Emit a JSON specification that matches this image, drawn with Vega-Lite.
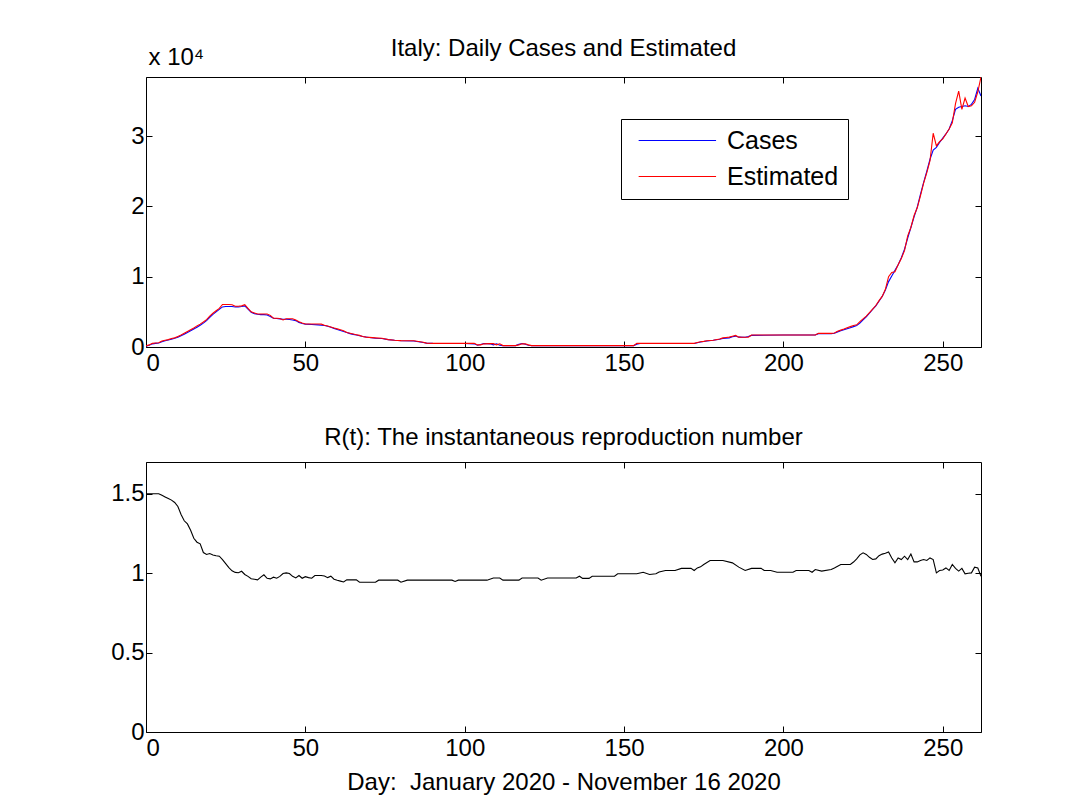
{
  "$schema": "https://vega.github.io/schema/vega-lite/v6.json",
  "background": "white",
  "padding": {"left": 110, "top": 36, "right": 10, "bottom": 10},
  "spacing": 49,
  "config": {
    "font": "Liberation Sans",
    "view": {"stroke": "black", "strokeWidth": 1},
    "axis": {"grid": false, "domain": false, "tickColor": "black", "tickSize": -6, "labelFontSize": 24, "labelColor": "black", "labelFont": "Liberation Sans", "titleFont": "Liberation Sans", "titleFontSize": 24, "titleFontWeight": "normal", "titleColor": "black", "labelPadding": 8},
    "axisX": {"labelPadding": 10},
    "title": {"fontSize": 24, "fontWeight": "normal", "font": "Liberation Sans", "color": "black", "offset": 12}
  },
  "datasets": {
    "cases": [
      {"day":0,"series":"Cases","value":100},{"day":1,"series":"Cases","value":250},{"day":2,"series":"Cases","value":450},{"day":3,"series":"Cases","value":520},{"day":4,"series":"Cases","value":580},{"day":5,"series":"Cases","value":750},{"day":6,"series":"Cases","value":900},{"day":7,"series":"Cases","value":1000},{"day":8,"series":"Cases","value":1100},{"day":9,"series":"Cases","value":1250},{"day":10,"series":"Cases","value":1400},{"day":11,"series":"Cases","value":1600},{"day":12,"series":"Cases","value":1800},{"day":13,"series":"Cases","value":2050},{"day":14,"series":"Cases","value":2300},{"day":15,"series":"Cases","value":2550},{"day":16,"series":"Cases","value":2800},{"day":17,"series":"Cases","value":3100},{"day":18,"series":"Cases","value":3400},{"day":19,"series":"Cases","value":3750},{"day":20,"series":"Cases","value":4200},{"day":21,"series":"Cases","value":4650},{"day":22,"series":"Cases","value":5000},{"day":23,"series":"Cases","value":5350},{"day":24,"series":"Cases","value":5700},{"day":25,"series":"Cases","value":5750},{"day":26,"series":"Cases","value":5750},{"day":27,"series":"Cases","value":5750},{"day":28,"series":"Cases","value":5700},{"day":29,"series":"Cases","value":5700},{"day":30,"series":"Cases","value":5750},{"day":31,"series":"Cases","value":5850},{"day":32,"series":"Cases","value":5400},{"day":33,"series":"Cases","value":4950},{"day":34,"series":"Cases","value":4750},{"day":35,"series":"Cases","value":4650},{"day":36,"series":"Cases","value":4600},{"day":37,"series":"Cases","value":4600},{"day":38,"series":"Cases","value":4550},{"day":39,"series":"Cases","value":4350},{"day":40,"series":"Cases","value":4100},{"day":41,"series":"Cases","value":4050},{"day":42,"series":"Cases","value":4000},{"day":43,"series":"Cases","value":3950},{"day":44,"series":"Cases","value":3950},{"day":45,"series":"Cases","value":3900},{"day":46,"series":"Cases","value":3850},{"day":47,"series":"Cases","value":3750},{"day":48,"series":"Cases","value":3500},{"day":49,"series":"Cases","value":3350},{"day":50,"series":"Cases","value":3250},{"day":52,"series":"Cases","value":3200},{"day":54,"series":"Cases","value":3150},{"day":55,"series":"Cases","value":3100},{"day":56,"series":"Cases","value":3050},{"day":57,"series":"Cases","value":2950},{"day":58,"series":"Cases","value":2800},{"day":59,"series":"Cases","value":2650},{"day":60,"series":"Cases","value":2500},{"day":61,"series":"Cases","value":2350},{"day":62,"series":"Cases","value":2200},{"day":63,"series":"Cases","value":2050},{"day":64,"series":"Cases","value":1900},{"day":65,"series":"Cases","value":1800},{"day":66,"series":"Cases","value":1700},{"day":67,"series":"Cases","value":1600},{"day":68,"series":"Cases","value":1500},{"day":69,"series":"Cases","value":1420},{"day":70,"series":"Cases","value":1350},{"day":72,"series":"Cases","value":1250},{"day":74,"series":"Cases","value":1200},{"day":76,"series":"Cases","value":1050},{"day":78,"series":"Cases","value":950},{"day":80,"series":"Cases","value":880},{"day":84,"series":"Cases","value":850},{"day":87,"series":"Cases","value":650},{"day":88,"series":"Cases","value":550},{"day":90,"series":"Cases","value":520},{"day":95,"series":"Cases","value":500},{"day":100,"series":"Cases","value":500},{"day":103,"series":"Cases","value":450},{"day":104,"series":"Cases","value":250},{"day":105,"series":"Cases","value":350},{"day":106,"series":"Cases","value":500},{"day":108,"series":"Cases","value":450},{"day":109,"series":"Cases","value":300},{"day":110,"series":"Cases","value":450},{"day":111,"series":"Cases","value":250},{"day":112,"series":"Cases","value":200},{"day":116,"series":"Cases","value":200},{"day":117,"series":"Cases","value":400},{"day":118,"series":"Cases","value":500},{"day":119,"series":"Cases","value":400},{"day":120,"series":"Cases","value":250},{"day":121,"series":"Cases","value":200},{"day":153,"series":"Cases","value":200},{"day":154,"series":"Cases","value":400},{"day":155,"series":"Cases","value":500},{"day":172,"series":"Cases","value":500},{"day":173,"series":"Cases","value":600},{"day":174,"series":"Cases","value":700},{"day":176,"series":"Cases","value":850},{"day":178,"series":"Cases","value":950},{"day":180,"series":"Cases","value":1100},{"day":181,"series":"Cases","value":1200},{"day":183,"series":"Cases","value":1300},{"day":184,"series":"Cases","value":1450},{"day":185,"series":"Cases","value":1550},{"day":186,"series":"Cases","value":1400},{"day":188,"series":"Cases","value":1380},{"day":189,"series":"Cases","value":1500},{"day":190,"series":"Cases","value":1650},{"day":200,"series":"Cases","value":1700},{"day":210,"series":"Cases","value":1700},{"day":211,"series":"Cases","value":1900},{"day":215,"series":"Cases","value":1900},{"day":216,"series":"Cases","value":1950},{"day":217,"series":"Cases","value":2150},{"day":218,"series":"Cases","value":2300},{"day":219,"series":"Cases","value":2450},{"day":220,"series":"Cases","value":2600},{"day":221,"series":"Cases","value":2750},{"day":222,"series":"Cases","value":2900},{"day":223,"series":"Cases","value":3050},{"day":224,"series":"Cases","value":3400},{"day":225,"series":"Cases","value":3850},{"day":226,"series":"Cases","value":4300},{"day":227,"series":"Cases","value":4800},{"day":228,"series":"Cases","value":5350},{"day":229,"series":"Cases","value":5850},{"day":230,"series":"Cases","value":6500},{"day":231,"series":"Cases","value":7200},{"day":232,"series":"Cases","value":8100},{"day":233,"series":"Cases","value":9300},{"day":234,"series":"Cases","value":10100},{"day":235,"series":"Cases","value":10900},{"day":236,"series":"Cases","value":11700},{"day":237,"series":"Cases","value":12700},{"day":238,"series":"Cases","value":13900},{"day":239,"series":"Cases","value":15500},{"day":240,"series":"Cases","value":17000},{"day":241,"series":"Cases","value":18500},{"day":242,"series":"Cases","value":19900},{"day":243,"series":"Cases","value":21700},{"day":244,"series":"Cases","value":23400},{"day":245,"series":"Cases","value":25000},{"day":246,"series":"Cases","value":26700},{"day":247,"series":"Cases","value":28000},{"day":248,"series":"Cases","value":28400},{"day":249,"series":"Cases","value":29100},{"day":250,"series":"Cases","value":29700},{"day":251,"series":"Cases","value":30300},{"day":252,"series":"Cases","value":31000},{"day":253,"series":"Cases","value":32200},{"day":254,"series":"Cases","value":33800},{"day":255,"series":"Cases","value":34100},{"day":256,"series":"Cases","value":34200},{"day":257,"series":"Cases","value":34300},{"day":258,"series":"Cases","value":34200},{"day":259,"series":"Cases","value":34500},{"day":260,"series":"Cases","value":35200},{"day":261,"series":"Cases","value":36800},{"day":262,"series":"Cases","value":35700},
      {"day":0,"series":"Estimated","value":150},{"day":1,"series":"Estimated","value":300},{"day":2,"series":"Estimated","value":520},{"day":3,"series":"Estimated","value":560},{"day":4,"series":"Estimated","value":600},{"day":5,"series":"Estimated","value":850},{"day":6,"series":"Estimated","value":950},{"day":7,"series":"Estimated","value":1050},{"day":8,"series":"Estimated","value":1200},{"day":9,"series":"Estimated","value":1300},{"day":10,"series":"Estimated","value":1500},{"day":11,"series":"Estimated","value":1700},{"day":12,"series":"Estimated","value":1950},{"day":13,"series":"Estimated","value":2200},{"day":14,"series":"Estimated","value":2450},{"day":15,"series":"Estimated","value":2700},{"day":16,"series":"Estimated","value":3000},{"day":17,"series":"Estimated","value":3250},{"day":18,"series":"Estimated","value":3550},{"day":19,"series":"Estimated","value":3900},{"day":20,"series":"Estimated","value":4400},{"day":21,"series":"Estimated","value":4800},{"day":22,"series":"Estimated","value":5150},{"day":23,"series":"Estimated","value":5500},{"day":24,"series":"Estimated","value":6050},{"day":25,"series":"Estimated","value":6050},{"day":26,"series":"Estimated","value":6050},{"day":27,"series":"Estimated","value":6000},{"day":28,"series":"Estimated","value":5800},{"day":29,"series":"Estimated","value":5800},{"day":30,"series":"Estimated","value":5850},{"day":31,"series":"Estimated","value":6020},{"day":32,"series":"Estimated","value":5500},{"day":33,"series":"Estimated","value":5000},{"day":34,"series":"Estimated","value":4850},{"day":35,"series":"Estimated","value":4700},{"day":36,"series":"Estimated","value":4690},{"day":37,"series":"Estimated","value":4690},{"day":38,"series":"Estimated","value":4690},{"day":39,"series":"Estimated","value":4500},{"day":40,"series":"Estimated","value":4100},{"day":41,"series":"Estimated","value":4080},{"day":42,"series":"Estimated","value":4050},{"day":43,"series":"Estimated","value":3840},{"day":44,"series":"Estimated","value":4020},{"day":45,"series":"Estimated","value":4020},{"day":46,"series":"Estimated","value":4020},{"day":47,"series":"Estimated","value":3850},{"day":48,"series":"Estimated","value":3600},{"day":49,"series":"Estimated","value":3400},{"day":50,"series":"Estimated","value":3270},{"day":52,"series":"Estimated","value":3270},{"day":54,"series":"Estimated","value":3270},{"day":55,"series":"Estimated","value":3250},{"day":56,"series":"Estimated","value":3100},{"day":57,"series":"Estimated","value":3000},{"day":58,"series":"Estimated","value":2850},{"day":59,"series":"Estimated","value":2700},{"day":60,"series":"Estimated","value":2580},{"day":61,"series":"Estimated","value":2450},{"day":62,"series":"Estimated","value":2300},{"day":63,"series":"Estimated","value":2050},{"day":64,"series":"Estimated","value":1950},{"day":65,"series":"Estimated","value":1850},{"day":66,"series":"Estimated","value":1750},{"day":67,"series":"Estimated","value":1650},{"day":68,"series":"Estimated","value":1500},{"day":69,"series":"Estimated","value":1400},{"day":70,"series":"Estimated","value":1370},{"day":72,"series":"Estimated","value":1300},{"day":74,"series":"Estimated","value":1240},{"day":76,"series":"Estimated","value":1050},{"day":78,"series":"Estimated","value":950},{"day":80,"series":"Estimated","value":900},{"day":84,"series":"Estimated","value":880},{"day":87,"series":"Estimated","value":680},{"day":88,"series":"Estimated","value":550},{"day":90,"series":"Estimated","value":520},{"day":95,"series":"Estimated","value":520},{"day":100,"series":"Estimated","value":520},{"day":103,"series":"Estimated","value":520},{"day":104,"series":"Estimated","value":300},{"day":105,"series":"Estimated","value":300},{"day":106,"series":"Estimated","value":450},{"day":108,"series":"Estimated","value":480},{"day":109,"series":"Estimated","value":480},{"day":110,"series":"Estimated","value":300},{"day":111,"series":"Estimated","value":450},{"day":112,"series":"Estimated","value":200},{"day":114,"series":"Estimated","value":200},{"day":116,"series":"Estimated","value":200},{"day":117,"series":"Estimated","value":300},{"day":118,"series":"Estimated","value":450},{"day":119,"series":"Estimated","value":450},{"day":120,"series":"Estimated","value":300},{"day":121,"series":"Estimated","value":200},{"day":130,"series":"Estimated","value":200},{"day":140,"series":"Estimated","value":200},{"day":150,"series":"Estimated","value":200},{"day":153,"series":"Estimated","value":200},{"day":154,"series":"Estimated","value":520},{"day":160,"series":"Estimated","value":520},{"day":165,"series":"Estimated","value":520},{"day":172,"series":"Estimated","value":520},{"day":173,"series":"Estimated","value":650},{"day":174,"series":"Estimated","value":750},{"day":175,"series":"Estimated","value":800},{"day":176,"series":"Estimated","value":900},{"day":178,"series":"Estimated","value":950},{"day":180,"series":"Estimated","value":1140},{"day":181,"series":"Estimated","value":1300},{"day":182,"series":"Estimated","value":1350},{"day":183,"series":"Estimated","value":1400},{"day":184,"series":"Estimated","value":1520},{"day":185,"series":"Estimated","value":1650},{"day":186,"series":"Estimated","value":1400},{"day":187,"series":"Estimated","value":1380},{"day":189,"series":"Estimated","value":1380},{"day":190,"series":"Estimated","value":1710},{"day":195,"series":"Estimated","value":1710},{"day":200,"series":"Estimated","value":1710},{"day":205,"series":"Estimated","value":1710},{"day":210,"series":"Estimated","value":1710},{"day":211,"series":"Estimated","value":1940},{"day":213,"series":"Estimated","value":1940},{"day":215,"series":"Estimated","value":1940},{"day":216,"series":"Estimated","value":2000},{"day":217,"series":"Estimated","value":2230},{"day":218,"series":"Estimated","value":2400},{"day":219,"series":"Estimated","value":2550},{"day":220,"series":"Estimated","value":2750},{"day":221,"series":"Estimated","value":2900},{"day":222,"series":"Estimated","value":3050},{"day":223,"series":"Estimated","value":3150},{"day":224,"series":"Estimated","value":3600},{"day":225,"series":"Estimated","value":4000},{"day":226,"series":"Estimated","value":4400},{"day":227,"series":"Estimated","value":4900},{"day":228,"series":"Estimated","value":5400},{"day":229,"series":"Estimated","value":5900},{"day":230,"series":"Estimated","value":6600},{"day":231,"series":"Estimated","value":7200},{"day":232,"series":"Estimated","value":8200},{"day":233,"series":"Estimated","value":10000},{"day":234,"series":"Estimated","value":10600},{"day":235,"series":"Estimated","value":10700},{"day":236,"series":"Estimated","value":11700},{"day":237,"series":"Estimated","value":12600},{"day":238,"series":"Estimated","value":13700},{"day":239,"series":"Estimated","value":15800},{"day":240,"series":"Estimated","value":17000},{"day":241,"series":"Estimated","value":18700},{"day":242,"series":"Estimated","value":19800},{"day":243,"series":"Estimated","value":21500},{"day":244,"series":"Estimated","value":23300},{"day":245,"series":"Estimated","value":24800},{"day":246,"series":"Estimated","value":26500},{"day":247,"series":"Estimated","value":30400},{"day":248,"series":"Estimated","value":28600},{"day":249,"series":"Estimated","value":29200},{"day":250,"series":"Estimated","value":29600},{"day":251,"series":"Estimated","value":30300},{"day":252,"series":"Estimated","value":31000},{"day":253,"series":"Estimated","value":31900},{"day":254,"series":"Estimated","value":34600},{"day":255,"series":"Estimated","value":36400},{"day":256,"series":"Estimated","value":33800},{"day":257,"series":"Estimated","value":35400},{"day":258,"series":"Estimated","value":34200},{"day":259,"series":"Estimated","value":34300},{"day":260,"series":"Estimated","value":34800},{"day":261,"series":"Estimated","value":36300},{"day":262,"series":"Estimated","value":38400}
    ],
    "rt": [
      {"day":0,"r":1.5},{"day":2,"r":1.5},{"day":4,"r":1.5},{"day":5,"r":1.49},{"day":6,"r":1.48},{"day":7,"r":1.47},{"day":8,"r":1.46},{"day":9,"r":1.445},{"day":10,"r":1.42},{"day":11,"r":1.37},{"day":12,"r":1.33},{"day":13,"r":1.31},{"day":14,"r":1.27},{"day":15,"r":1.22},{"day":16,"r":1.195},{"day":17,"r":1.185},{"day":18,"r":1.13},{"day":19,"r":1.118},{"day":20,"r":1.124},{"day":21,"r":1.115},{"day":22,"r":1.11},{"day":23,"r":1.107},{"day":24,"r":1.085},{"day":25,"r":1.06},{"day":26,"r":1.035},{"day":27,"r":1.015},{"day":28,"r":1.005},{"day":29,"r":1.003},{"day":30,"r":1.012},{"day":31,"r":0.992},{"day":32,"r":0.98},{"day":33,"r":0.965},{"day":34,"r":0.962},{"day":35,"r":0.958},{"day":36,"r":0.975},{"day":37,"r":0.99},{"day":38,"r":0.968},{"day":39,"r":0.964},{"day":40,"r":0.975},{"day":41,"r":0.968},{"day":42,"r":0.98},{"day":43,"r":0.998},{"day":44,"r":1.002},{"day":45,"r":0.998},{"day":46,"r":0.98},{"day":47,"r":0.97},{"day":48,"r":0.985},{"day":49,"r":0.968},{"day":50,"r":0.978},{"day":51,"r":0.972},{"day":52,"r":0.968},{"day":53,"r":0.985},{"day":55,"r":0.985},{"day":56,"r":0.982},{"day":57,"r":0.972},{"day":58,"r":0.981},{"day":59,"r":0.962},{"day":60,"r":0.955},{"day":61,"r":0.95},{"day":62,"r":0.945},{"day":63,"r":0.958},{"day":66,"r":0.958},{"day":67,"r":0.943},{"day":72,"r":0.943},{"day":73,"r":0.956},{"day":79,"r":0.956},{"day":80,"r":0.943},{"day":82,"r":0.956},{"day":96,"r":0.956},{"day":97,"r":0.948},{"day":98,"r":0.956},{"day":107,"r":0.956},{"day":109,"r":0.97},{"day":111,"r":0.97},{"day":112,"r":0.956},{"day":117,"r":0.956},{"day":118,"r":0.97},{"day":123,"r":0.97},{"day":124,"r":0.956},{"day":126,"r":0.97},{"day":135,"r":0.97},{"day":136,"r":0.981},{"day":137,"r":0.967},{"day":139,"r":0.967},{"day":140,"r":0.981},{"day":147,"r":0.981},{"day":148,"r":0.996},{"day":154,"r":0.996},{"day":156,"r":1.006},{"day":158,"r":0.992},{"day":160,"r":0.996},{"day":161,"r":1.008},{"day":163,"r":1.017},{"day":166,"r":1.017},{"day":168,"r":1.03},{"day":171,"r":1.03},{"day":172,"r":1.017},{"day":173,"r":1.033},{"day":174,"r":1.04},{"day":175,"r":1.055},{"day":177,"r":1.08},{"day":181,"r":1.08},{"day":184,"r":1.065},{"day":186,"r":1.038},{"day":188,"r":1.017},{"day":190,"r":1.03},{"day":193,"r":1.03},{"day":194,"r":1.017},{"day":196,"r":1.017},{"day":198,"r":1.006},{"day":203,"r":1.006},{"day":204,"r":1.017},{"day":208,"r":1.017},{"day":209,"r":1.006},{"day":210,"r":1.023},{"day":212,"r":1.013},{"day":215,"r":1.023},{"day":216,"r":1.033},{"day":218,"r":1.055},{"day":221,"r":1.055},{"day":222,"r":1.07},{"day":223,"r":1.09},{"day":224,"r":1.115},{"day":225,"r":1.128},{"day":226,"r":1.118},{"day":227,"r":1.1},{"day":228,"r":1.086},{"day":229,"r":1.09},{"day":230,"r":1.11},{"day":231,"r":1.12},{"day":232,"r":1.126},{"day":233,"r":1.134},{"day":234,"r":1.096},{"day":235,"r":1.065},{"day":236,"r":1.096},{"day":237,"r":1.086},{"day":238,"r":1.107},{"day":239,"r":1.086},{"day":240,"r":1.121},{"day":241,"r":1.071},{"day":242,"r":1.071},{"day":243,"r":1.08},{"day":244,"r":1.086},{"day":245,"r":1.08},{"day":246,"r":1.096},{"day":247,"r":1.086},{"day":248,"r":1.002},{"day":249,"r":1.017},{"day":250,"r":1.02},{"day":251,"r":1.033},{"day":252,"r":1.017},{"day":253,"r":1.055},{"day":254,"r":1.03},{"day":255,"r":1.013},{"day":256,"r":1.03},{"day":257,"r":0.996},{"day":258,"r":1.0},{"day":259,"r":1.002},{"day":260,"r":1.038},{"day":261,"r":1.033},{"day":262,"r":0.981}
    ]
  },
  "vconcat": [
    {
      "width": 835,
      "height": 270,
      "title": {"text": "Italy: Daily Cases and Estimated", "offset": -16},
      "data": {"name": "cases"},
      "layer": [
        {
          "mark": {"type": "line", "strokeWidth": 1.1, "clip": true},
          "encoding": {
            "x": {"field": "day", "type": "quantitative", "scale": {"domain": [0, 262], "nice": false}, "axis": {"values": [0, 50, 100, 150, 200, 250], "title": null}},
            "y": {"field": "value", "type": "quantitative", "scale": {"domain": [0, 38400], "nice": false}, "axis": {"values": [0, 10000, 20000, 30000], "labelExpr": "datum.value / 10000", "title": "x 10⁴", "titleAngle": 0, "titleX": 2, "titleY": -13, "titleAlign": "left", "titleBaseline": "alphabetic"}},
            "color": {"field": "series", "type": "nominal", "scale": {"domain": ["Cases", "Estimated"], "range": ["#0000ff", "#ff0000"]},
              "legend": {"orient": "none", "legendX": 475, "legendY": 42, "title": null, "strokeColor": "black", "fillColor": "white", "padding": 9, "cornerRadius": 0, "labelFontSize": 25, "labelColor": "black", "labelFont": "Liberation Sans", "labelExpr": "datum.label + '\u00a0\u00a0'", "symbolType": "M-0.4,0L7.65,0", "symbolSize": 370, "symbolStrokeWidth": 1, "labelOffset": 72, "rowPadding": 10}}
          }
        },
        {
          "mark": {"type": "line", "opacity": 0},
          "encoding": {
            "x": {"field": "day", "type": "quantitative", "scale": {"domain": [0, 262], "nice": false}, "axis": {"orient": "top", "values": [0, 50, 100, 150, 200, 250], "labels": false, "title": null}},
            "y": {"field": "value", "type": "quantitative", "scale": {"domain": [0, 38400], "nice": false}, "axis": {"orient": "right", "values": [0, 10000, 20000, 30000], "labels": false, "title": null}},
            "detail": {"field": "series"}
          }
        }
      ],
      "resolve": {"axis": {"x": "independent", "y": "independent"}}
    },
    {
      "width": 835,
      "height": 270,
      "title": {"text": "R(t): The instantaneous reproduction number"},
      "data": {"name": "rt"},
      "layer": [
        {
          "mark": {"type": "line", "strokeWidth": 1.1, "color": "black", "clip": true},
          "encoding": {
            "x": {"field": "day", "type": "quantitative", "scale": {"domain": [0, 262], "nice": false}, "axis": {"values": [0, 50, 100, 150, 200, 250], "title": "Day: \u00a0January 2020 - November 16 2020", "titlePadding": 10}},
            "y": {"field": "r", "type": "quantitative", "scale": {"domain": [0, 1.7], "nice": false}, "axis": {"values": [0, 0.5, 1, 1.5], "format": "~g", "title": null}}
          }
        },
        {
          "mark": {"type": "line", "opacity": 0},
          "encoding": {
            "x": {"field": "day", "type": "quantitative", "scale": {"domain": [0, 262], "nice": false}, "axis": {"orient": "top", "values": [0, 50, 100, 150, 200, 250], "labels": false, "title": null}},
            "y": {"field": "r", "type": "quantitative", "scale": {"domain": [0, 1.7], "nice": false}, "axis": {"orient": "right", "values": [0, 0.5, 1, 1.5], "labels": false, "title": null}}
          }
        }
      ],
      "resolve": {"axis": {"x": "independent", "y": "independent"}}
    }
  ]
}
